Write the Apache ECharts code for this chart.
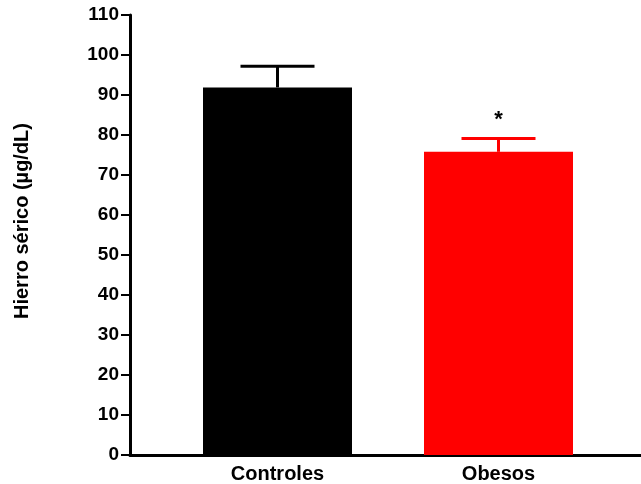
<!DOCTYPE html>
<html>
<head>
<meta charset="utf-8">
<script src="https://cdn.jsdelivr.net/npm/echarts@6/dist/echarts.min.js"></script>
<style>
  html, body { margin: 0; padding: 0; background: #fff; }
  #chart { width: 641px; height: 484px; }
</style>
</head>
<body>
<div id="chart"></div>
<script>
// Serum iron by group: mean with upper SEM
const categories = ['Controles', 'Obesos'];
const meanValues = [91.9, 75.8];
const semValues = [5.3, 3.3];
const barColors = ['#000000', '#ff0000'];
const significance = ['', '*'];
const yTicks = { min: 0, max: 110, step: 10 };

const FONT = 'Liberation Sans, Arial, sans-serif';

const chart = echarts.init(document.getElementById('chart'), null, { renderer: 'canvas' });

const errorData = categories.map((c, i) => [i, meanValues[i], meanValues[i] + semValues[i]]);

chart.setOption({
  animation: false,
  backgroundColor: '#ffffff',
  grid: [
    // frame grid: carries the y axis and the long baseline
    { left: 130, right: 0, top: 15, bottom: 29 },
    // bar grid: bars sit in evenly spaced bands
    { left: 167, right: 32, top: 15, bottom: 29 }
  ],
  xAxis: [
    {
      gridIndex: 0, type: 'value', min: 0, max: 1,
      axisLine: { show: true, onZero: false, lineStyle: { color: '#000', width: 3 } },
      axisTick: { show: false }, axisLabel: { show: false }, splitLine: { show: false }
    },
    {
      gridIndex: 1, type: 'category', data: categories,
      axisLine: { show: false }, axisTick: { show: false },
      axisLabel: { color: '#000', fontFamily: FONT, fontWeight: 'bold', fontSize: 20, margin: 9 }
    }
  ],
  yAxis: [
    {
      gridIndex: 0, type: 'value', min: yTicks.min, max: yTicks.max, interval: yTicks.step,
      name: 'Hierro sérico (µg/dL)', nameLocation: 'middle', nameGap: 98,
      nameTextStyle: { color: '#000', fontFamily: FONT, fontWeight: 'bold', fontSize: 20, padding: [0, 0, 0, 28] },
      axisLine: { show: true, lineStyle: { color: '#000', width: 3 } },
      axisTick: { show: true, inside: false, length: 9, lineStyle: { color: '#000', width: 2 } },
      axisLabel: { color: '#000', fontFamily: FONT, fontWeight: 'bold', fontSize: 19, margin: 11 },
      splitLine: { show: false }
    },
    {
      gridIndex: 1, type: 'value', min: yTicks.min, max: yTicks.max, show: false
    }
  ],
  series: [
    {
      type: 'bar', xAxisIndex: 1, yAxisIndex: 1,
      barWidth: 149,
      data: meanValues.map((v, i) => ({ value: v, itemStyle: { color: barColors[i] } })),
      z: 2
    },
    {
      type: 'custom', xAxisIndex: 1, yAxisIndex: 1,
      data: errorData,
      z: 3,
      renderItem: function (params, api) {
        const i = api.value(0);
        const base = api.coord([i, api.value(1)]);
        const top = api.coord([i, api.value(2)]);
        const half = 37;
        const color = barColors[i];
        const children = [
          { type: 'line', shape: { x1: base[0], y1: base[1], x2: top[0], y2: top[1] },
            style: { stroke: color, lineWidth: 3 } },
          { type: 'line', shape: { x1: top[0] - half, y1: top[1], x2: top[0] + half, y2: top[1] },
            style: { stroke: color, lineWidth: 3 } }
        ];
        if (significance[i]) {
          children.push({
            type: 'text',
            style: {
              text: significance[i], x: top[0], y: top[1] - 19,
              align: 'center', verticalAlign: 'middle',
              fill: '#000', font: 'bold 22px ' + FONT
            }
          });
        }
        return { type: 'group', children: children };
      }
    }
  ]
});
</script>
</body>
</html>
